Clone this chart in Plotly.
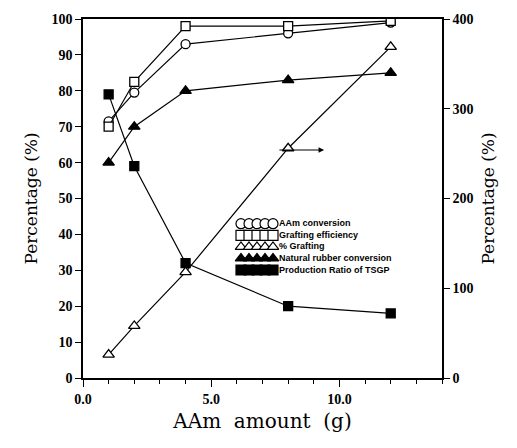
import plotly.graph_objects as go

aam_amount = [1, 2, 4, 8, 12]
aam_conversion = [71.5, 79.5, 93, 96, 99]
grafting_efficiency = [70, 82.5, 98, 98, 99.5]
pct_grafting = [26, 58, 118, 256, 369]
nr_conversion = [60, 70, 80, 83, 85]
tsgp_ratio = [79, 59, 32, 20, 18]

series_names = ["AAm conversion", "Grafting efficiency", "% Grafting",
                "Natural rubber conversion", "Production Ratio of TSGP"]
series_symbols = ["circle", "square", "triangle-up", "triangle-up", "square"]
series_filled = [False, False, False, True, True]
series_sizes = [9, 9, 10, 10, 9]

black = "black"
fig = go.Figure()

data = [aam_conversion, grafting_efficiency, pct_grafting, nr_conversion, tsgp_ratio]
axes = ["y", "y", "y2", "y", "y"]
for vals, name, sym, filled, sz, ax in zip(data, series_names, series_symbols, series_filled, series_sizes, axes):
    fig.add_trace(go.Scatter(
        x=aam_amount, y=vals, name=name, mode="lines+markers", yaxis=ax, showlegend=False,
        line=dict(color=black, width=1.2),
        marker=dict(symbol=sym, size=sz, color=black if filled else "white",
                    line=dict(color=black, width=1.3)),
    ))

# custom legend (pixel-like helper axes)
leg_x0, leg_y0, leg_dy = 241, 222, 11.7
for i, (name, sym, filled) in enumerate(zip(series_names, series_symbols, series_filled)):
    yy = leg_y0 + i * leg_dy
    fig.add_trace(go.Scatter(
        x=[leg_x0 + k * 8 for k in range(5)], y=[yy] * 5, mode="markers",
        xaxis="x3", yaxis="y3", showlegend=False, hoverinfo="skip",
        marker=dict(symbol=sym, size=10, color=black if filled else "white",
                    line=dict(color=black, width=1.2)),
    ))
fig.add_annotation(x=leg_x0 + 37, y=leg_y0 + 2 * leg_dy, xref="x3", yref="y3",
                   text="<br>".join(series_names), showarrow=False, align="left",
                   xanchor="left", yanchor="middle", borderpad=0,
                   font=dict(family="Liberation Sans", size=9, color=black, weight="bold"))

fig.add_annotation(x=9.4, y=63.5, ax=7.6, ay=63.5, xref="x", yref="y", axref="x", ayref="y",
                   showarrow=True, arrowhead=2, arrowsize=1, arrowwidth=1.1, arrowcolor=black, text="")

tickfont = dict(family="Liberation Serif", size=14, color=black, weight="bold")
titlefont_y = dict(family="DejaVu Serif", size=17, color=black)

fig.update_layout(
    width=517, height=448,
    margin=dict(l=83, r=75, t=15, b=70),
    paper_bgcolor="white", plot_bgcolor="white",
    showlegend=False,
    xaxis=dict(range=[0, 14], tickmode="array", tickvals=[0, 5, 10], ticktext=["0.0", "5.0", "10.0"],
               ticks="outside", ticklen=7, tickwidth=1.3, tickcolor=black,
               minor=dict(dtick=1, ticks="outside", ticklen=4, tickcolor=black, tickwidth=1),
               showline=True, linecolor=black, linewidth=1.5, mirror=True, showgrid=False, zeroline=False,
               tickfont=tickfont,
               title=dict(text="AAm\u00a0\u00a0amount\u00a0\u00a0(g)",
                          font=dict(family="DejaVu Serif", size=20, color=black), standoff=8)),
    yaxis=dict(range=[0, 100], dtick=10, ticks="outside", ticklen=6, tickwidth=1.3, tickcolor=black,
               showline=True, linecolor=black, linewidth=1.5, showgrid=False, zeroline=False,
               tickfont=tickfont,
               title=dict(text="Percentage (%)", font=titlefont_y, standoff=10)),
    yaxis2=dict(range=[0, 400], dtick=100, overlaying="y", side="right", ticks="outside", ticklen=6,
                tickwidth=1.3, tickcolor=black, showline=True, linecolor=black, linewidth=1.5,
                showgrid=False, zeroline=False, tickfont=tickfont,
                title=dict(text="Percentage (%)", font=titlefont_y, standoff=10)),
    xaxis3=dict(domain=[0, 1], range=[83, 442], visible=False, overlaying="x", fixedrange=True),
    yaxis3=dict(domain=[0, 1], range=[378, 15], visible=False, overlaying="y", fixedrange=True),
)

fig.write_html("out.html")
